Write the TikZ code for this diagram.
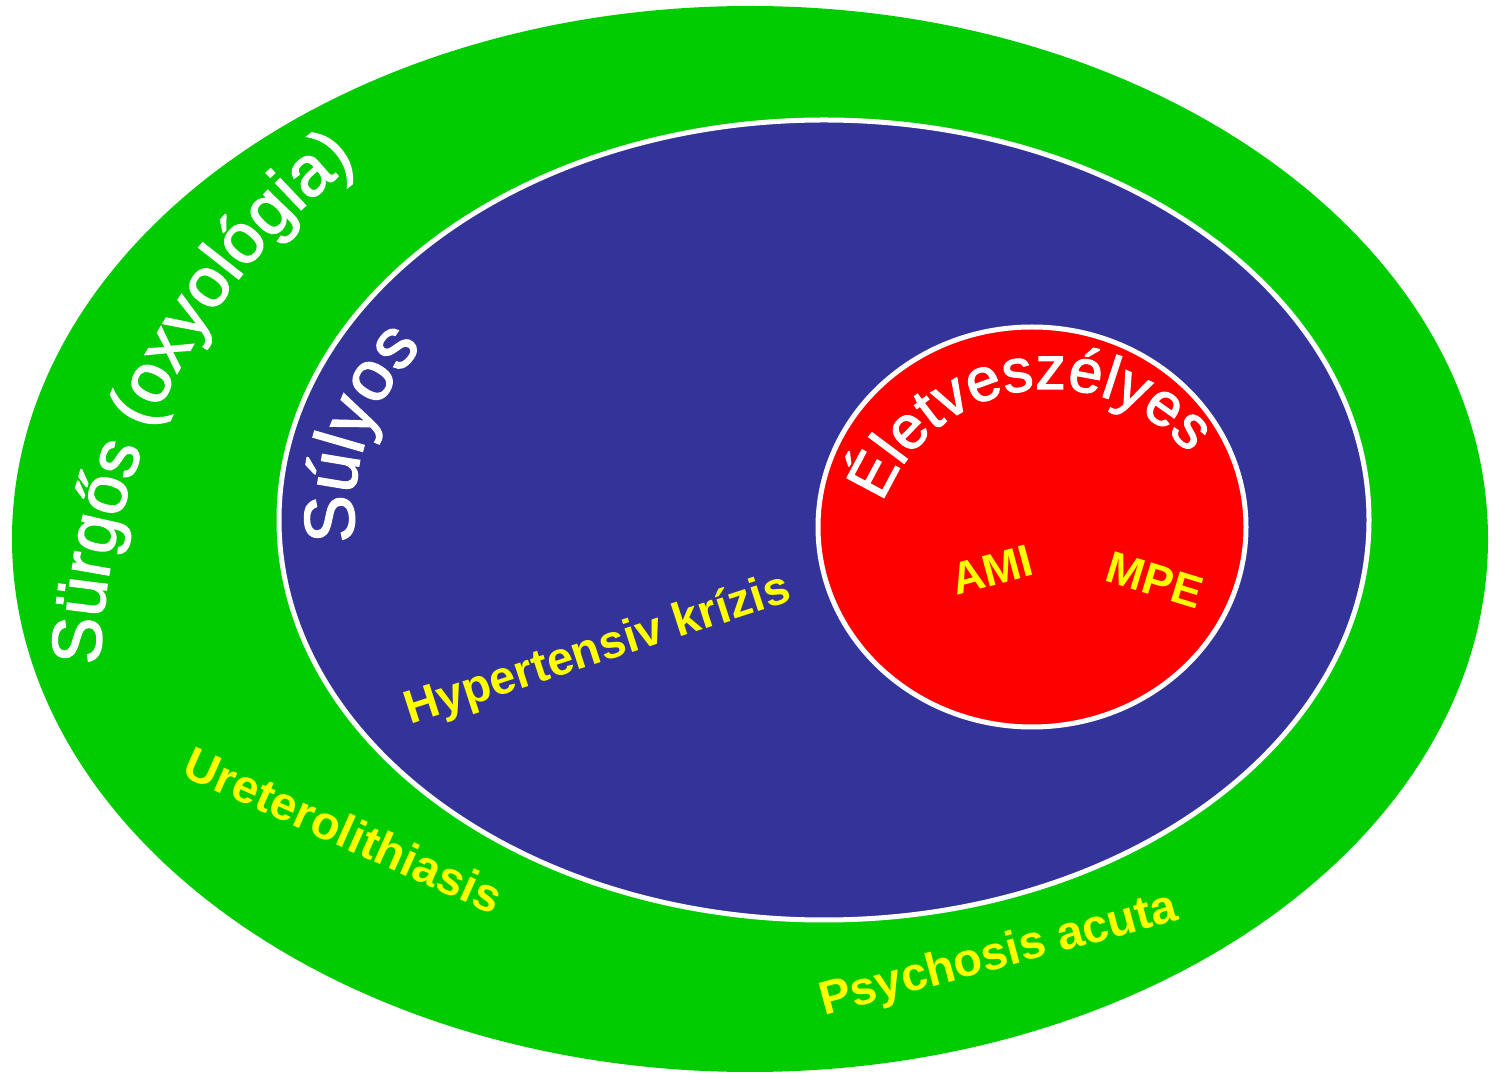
\documentclass[tikz,border=0pt]{standalone}
\usepackage{fontspec}
\setmainfont{Liberation Sans}
\newfontfamily\heavysans[FakeBold=2]{Liberation Sans}
\usetikzlibrary{decorations.text}

\definecolor{urgentgreen}{HTML}{00CC00}
\definecolor{severeblue}{HTML}{333399}
\definecolor{lethalred}{HTML}{FF0000}
\definecolor{labelyellow}{HTML}{FFFF00}

\newcommand{\bigarcfont}{\heavysans\fontsize{70}{80}\selectfont}
\newcommand{\midarcfont}{\heavysans\fontsize{71}{80}\selectfont}
\newcommand{\smallarcfont}{\heavysans\fontsize{61}{70}\selectfont}

\begin{document}
\begin{tikzpicture}[x=1pt, y=1pt,
  zone/.style={line width=5pt, draw=white},
  caselabel/.style={text=labelyellow, font=\bfseries\fontsize{47}{52}\selectfont, inner sep=0pt, anchor=center},
  arctext/.style={decorate, decoration={text along path, text align=center, text color=white, text={#1}}}
]
  \useasboundingbox (0,0) rectangle (1497,1074);

  % nested severity zones
  \fill[urgentgreen] (750,535) ellipse [x radius=738, y radius=533];
  \path[zone, fill=severeblue] (824,554) ellipse [x radius=545, y radius=400];
  \path[zone, fill=lethalred] (1032,547) ellipse [x radius=214, y radius=200];

  % zone titles bent along arcs
  \path[arctext={|\bigarcfont|Sürgős (oxyológia)}]
    (755,392) ++(180:655) arc[start angle=180, end angle=126, radius=655];
  \path[arctext={|\midarcfont|Súlyos}]
    (590,560) ++(187:236) arc[start angle=187, end angle=135, radius=236];
  \path[arctext={|\smallarcfont|Életveszélyes}]
    (1050,505) ++(160:180) arc[start angle=160, end angle=38, radius=180];

  % example conditions
  \node[caselabel, rotate=18] (hyp) at (598,423) {Hypertensiv krízis};
  \node[caselabel, rotate=-24] (uro) at (344,244) {Ureterolithiasis};
  \node[caselabel, rotate=15] (psy) at (999,118) {Psychosis acuta};
  \node[caselabel, rotate=15, font=\bfseries\fontsize{45}{52}\selectfont] (ami) at (992,504) {AMI};
  \node[caselabel, rotate=-17, font=\bfseries\fontsize{45}{52}\selectfont] (mpe) at (1155,494) {MPE};
\end{tikzpicture}
\end{document}
